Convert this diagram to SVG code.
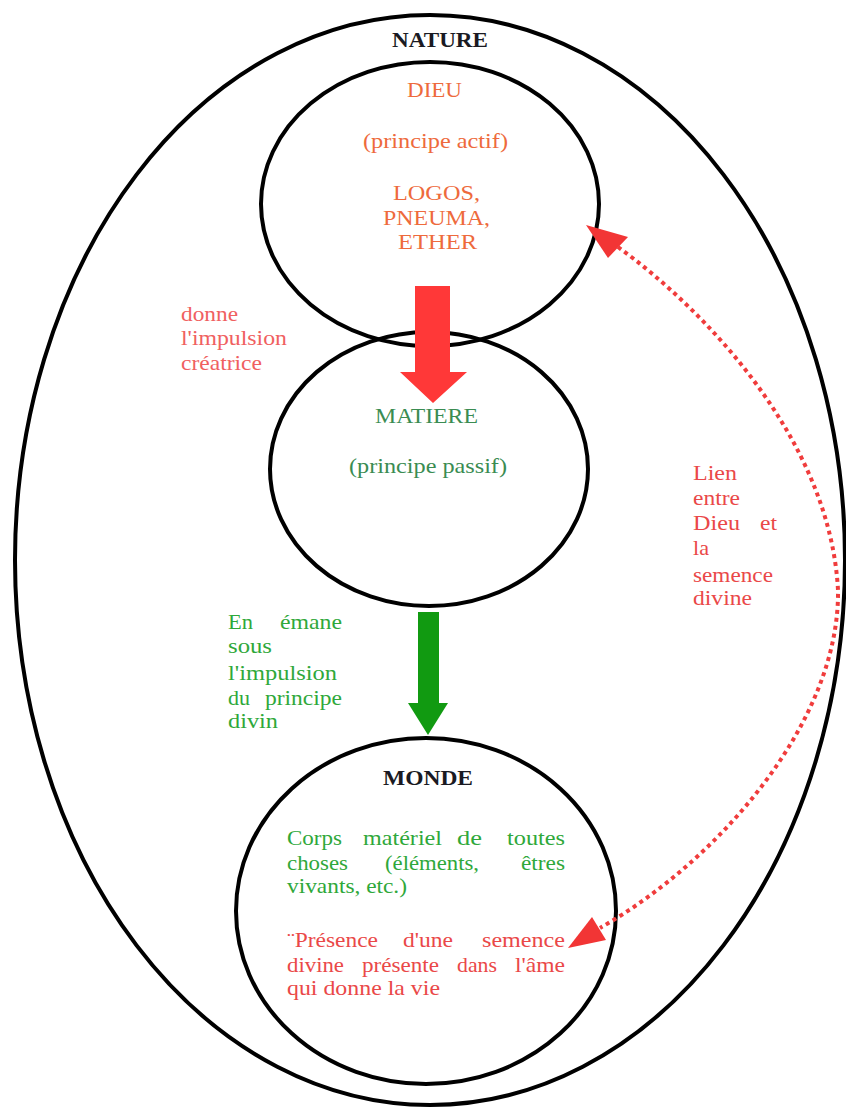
<svg xmlns="http://www.w3.org/2000/svg" width="846" height="1108" viewBox="0 0 846 1108">
<style>
.ring{fill:none;stroke:#000;stroke-width:4}
text{font-family:"Liberation Serif","Times New Roman",serif;font-size:21px}
.b{font-weight:bold;fill:#1a1a22}
.or{fill:#ee6a3c}
.pk{fill:#f06060}
.gr{fill:#2fa83a}
.dg{fill:#3a8c52}
.rd{fill:#ea4848}
</style>
<rect width="846" height="1108" fill="#fff"/>
<g id="nature">
<ellipse class="ring" cx="430" cy="560" rx="415" ry="545"/>
<text class="b" x="392" y="47" textLength="96" lengthAdjust="spacingAndGlyphs" font-size="22">NATURE</text>
</g>
<g id="dieu">
<ellipse class="ring" cx="430" cy="204" rx="169" ry="142"/>
<text class="or" x="407" y="97" textLength="55" lengthAdjust="spacingAndGlyphs">DIEU</text>
<text class="or" x="363" y="148" textLength="145" lengthAdjust="spacingAndGlyphs">(principe actif)</text>
<text class="or" x="393" y="200" textLength="87" lengthAdjust="spacingAndGlyphs">LOGOS,</text>
<text class="or" x="383" y="225" textLength="107" lengthAdjust="spacingAndGlyphs">PNEUMA,</text>
<text class="or" x="398" y="249" textLength="79" lengthAdjust="spacingAndGlyphs">ETHER</text>
</g>
<g id="matiere">
<ellipse class="ring" cx="429" cy="469" rx="159" ry="137"/>
<text class="dg" x="375" y="423" textLength="103" lengthAdjust="spacingAndGlyphs">MATIERE</text>
<text class="dg" x="349" y="473" textLength="158" lengthAdjust="spacingAndGlyphs">(principe passif)</text>
</g>
<g id="monde">
<ellipse class="ring" cx="426" cy="911" rx="190" ry="173"/>
<text class="b" x="383" y="785" textLength="90" lengthAdjust="spacingAndGlyphs">MONDE</text>
<text class="gr" x="287" y="845" textLength="55" lengthAdjust="spacingAndGlyphs">Corps</text>
<text class="gr" x="363" y="845" textLength="79" lengthAdjust="spacingAndGlyphs">matériel</text>
<text class="gr" x="457" y="845" textLength="25" lengthAdjust="spacingAndGlyphs">de</text>
<text class="gr" x="507" y="845" textLength="58" lengthAdjust="spacingAndGlyphs">toutes</text>
<text class="gr" x="287" y="870" textLength="61" lengthAdjust="spacingAndGlyphs">choses</text>
<text class="gr" x="385" y="870" textLength="94" lengthAdjust="spacingAndGlyphs">(éléments,</text>
<text class="gr" x="521" y="870" textLength="44" lengthAdjust="spacingAndGlyphs">êtres</text>
<text class="gr" x="287" y="893" textLength="120" lengthAdjust="spacingAndGlyphs">vivants, etc.)</text>
<text class="rd" x="287" y="947" textLength="91" lengthAdjust="spacingAndGlyphs">¨Présence</text>
<text class="rd" x="403" y="947" textLength="50" lengthAdjust="spacingAndGlyphs">d'une</text>
<text class="rd" x="482" y="947" textLength="83" lengthAdjust="spacingAndGlyphs">semence</text>
<text class="rd" x="287" y="972" textLength="57" lengthAdjust="spacingAndGlyphs">divine</text>
<text class="rd" x="362" y="972" textLength="77" lengthAdjust="spacingAndGlyphs">présente</text>
<text class="rd" x="457" y="972" textLength="40" lengthAdjust="spacingAndGlyphs">dans</text>
<text class="rd" x="515" y="972" textLength="50" lengthAdjust="spacingAndGlyphs">l'âme</text>
<text class="rd" x="287" y="995" textLength="153" lengthAdjust="spacingAndGlyphs">qui donne la vie</text>
</g>
<g id="label-impulsion">
<text class="pk" x="181" y="321" textLength="57" lengthAdjust="spacingAndGlyphs">donne</text>
<text class="pk" x="181" y="345" textLength="106" lengthAdjust="spacingAndGlyphs">l'impulsion</text>
<text class="pk" x="181" y="370" textLength="81" lengthAdjust="spacingAndGlyphs">créatrice</text>
</g>
<g id="label-emane">
<text class="gr" x="228" y="629" textLength="25" lengthAdjust="spacingAndGlyphs">En</text>
<text class="gr" x="280" y="629" textLength="62" lengthAdjust="spacingAndGlyphs">émane</text>
<text class="gr" x="228" y="653" textLength="44" lengthAdjust="spacingAndGlyphs">sous</text>
<text class="gr" x="228" y="680" textLength="109" lengthAdjust="spacingAndGlyphs">l'impulsion</text>
<text class="gr" x="228" y="705" textLength="22" lengthAdjust="spacingAndGlyphs">du</text>
<text class="gr" x="265" y="705" textLength="77" lengthAdjust="spacingAndGlyphs">principe</text>
<text class="gr" x="228" y="728" textLength="50" lengthAdjust="spacingAndGlyphs">divin</text>
</g>
<g id="label-lien">
<text class="rd" x="693" y="480" textLength="44" lengthAdjust="spacingAndGlyphs">Lien</text>
<text class="rd" x="693" y="505" textLength="47" lengthAdjust="spacingAndGlyphs">entre</text>
<text class="rd" x="693" y="530" textLength="47" lengthAdjust="spacingAndGlyphs">Dieu</text>
<text class="rd" x="760" y="530" textLength="17" lengthAdjust="spacingAndGlyphs">et</text>
<text class="rd" x="693" y="555" textLength="16" lengthAdjust="spacingAndGlyphs">la</text>
<text class="rd" x="693" y="582" textLength="80" lengthAdjust="spacingAndGlyphs">semence</text>
<text class="rd" x="693" y="605" textLength="59" lengthAdjust="spacingAndGlyphs">divine</text>
</g>
<g id="connectors">
<polygon fill="#ff3838" points="415,286 450,286 450,372 467,372 433,403 400,372 415,372"/>
<polygon fill="#119a11" points="418,612 439,612 439,703 448,703 428,735 408,703 418,703"/>
<path d="M618,247 C705,310 830,440 838,590 C840,720 720,860 600,928" fill="none" stroke="#f03c3c" stroke-width="4" stroke-dasharray="4 4"/>
<polygon fill="#f23535" points="586,225 628,237 608,258"/>
<polygon fill="#f23535" points="568,948 592,917 606,940"/>
</g>
</svg>
